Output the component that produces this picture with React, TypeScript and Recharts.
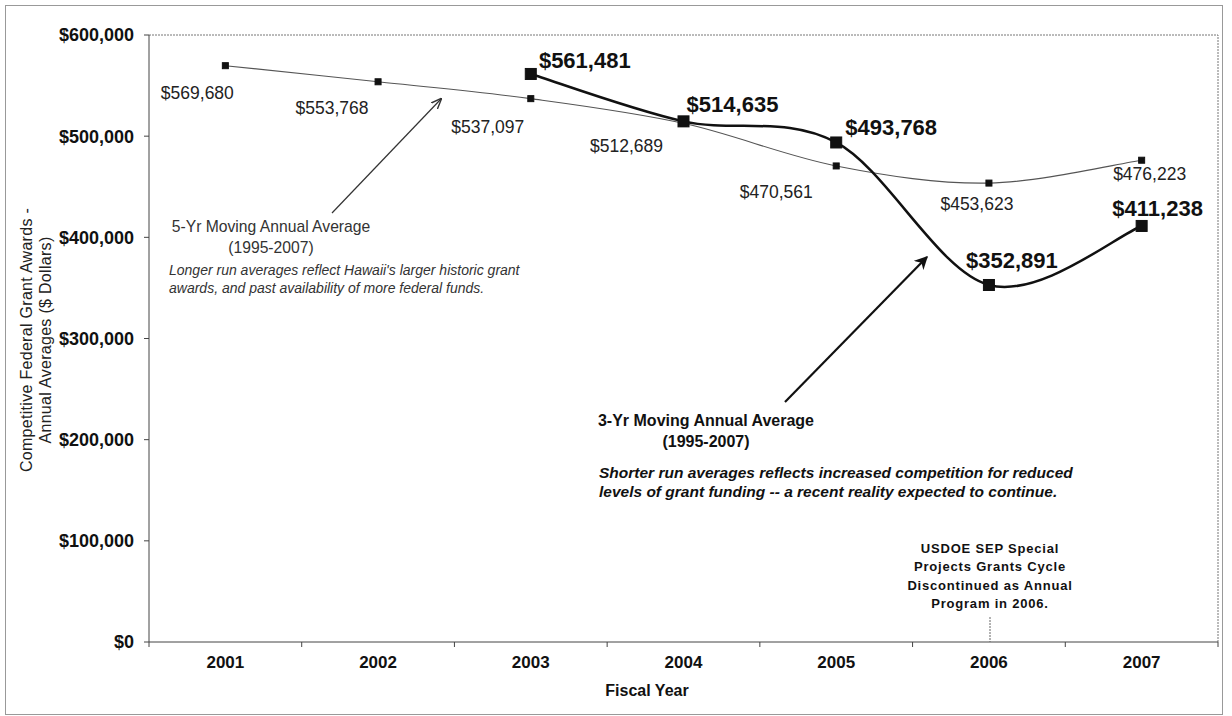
import React from "react";
import { LineChart, Line, XAxis, YAxis, ReferenceLine, LabelList } from "recharts";

const years = [2001, 2002, 2003, 2004, 2005, 2006, 2007];
const fiveYrAvg = [569680, 553768, 537097, 512689, 470561, 453623, 476223];
const threeYrAvg = [null, null, 561481, 514635, 493768, 352891, 411238];
const yTicks = [0, 100000, 200000, 300000, 400000, 500000, 600000];

// label nudges (px) per year
const fiveYrLabelShift = [[-28, 27], [-46, 26], [-43, 28], [-57, 23], [-60, 26], [-12, 21], [8, 14]];
const threeYrLabelShift = [[0, 0], [0, 0], [54, -13], [49, -17], [55, -15], [23, -24], [16, -17]];

const data = years.map((y, i) => ({ year: y, five: fiveYrAvg[i], three: threeYrAvg[i] }));

const W = 1232;
const H = 716;
const margin = { top: 35, right: 14, left: 49, bottom: 34 };
const yAxisW = 100;
const plotW = W - margin.left - yAxisW - margin.right;
const step = plotW / years.length;
const font = "'Liberation Sans', Arial, sans-serif";

const money = (v: number) => "$" + String(v).replace(/\B(?=(\d{3})+(?!\d))/g, ",");

// Excel style smoothed line (catmull-rom as bezier)
function excelSmooth(context: any) {
  let pts: number[][] = [];
  return {
    areaStart() {},
    areaEnd() {},
    lineStart() {
      pts = [];
    },
    point(x: number, y: number) {
      pts.push([+x, +y]);
    },
    lineEnd() {
      if (!pts.length) return;
      context.moveTo(pts[0][0], pts[0][1]);
      for (let i = 0; i < pts.length - 1; i++) {
        const p0 = pts[i - 1] || pts[i];
        const p1 = pts[i];
        const p2 = pts[i + 1];
        const p3 = pts[i + 2] || p2;
        context.bezierCurveTo(
          p1[0] + (p2[0] - p0[0]) / 6,
          p1[1] + (p2[1] - p0[1]) / 6,
          p2[0] - (p3[0] - p1[0]) / 6,
          p2[1] - (p3[1] - p1[1]) / 6,
          p2[0],
          p2[1]
        );
      }
    },
  };
}

const squareDot = (size: number) => (props: any) => {
  const { cx, cy, index } = props;
  if (cx == null || cy == null || props.value == null || (Array.isArray(props.value) && props.value[1] == null))
    return <g key={"d" + index} />;
  return <rect key={"d" + index} x={cx - size / 2} y={cy - size / 2} width={size} height={size} fill="#111" stroke="#111" />;
};

const XTick = (props: any) => {
  const { x, y, payload, index } = props;
  const axisY = y - 14;
  return (
    <g>
      <line x1={x - step / 2} x2={x - step / 2} y1={axisY} y2={axisY + 5} stroke="#444" />
      {index === years.length - 1 && (
        <line x1={x + step / 2} x2={x + step / 2} y1={axisY} y2={axisY + 5} stroke="#444" />
      )}
      <text x={x} y={y} dy="0.71em" textAnchor="middle" fontFamily={font} fontWeight="bold" fontSize={17} fill="#111">
        {payload.value}
      </text>
    </g>
  );
};

const labelFor = (shift: number[][], size: number, weight: string, fill: string) => (p: any) => {
  const { x, y, value, index } = p;
  if (value == null || x == null || y == null) return null;
  const s = shift[index] || [0, 0];
  return (
    <text
      key={"l" + index}
      x={x + s[0]}
      y={y + s[1]}
      textAnchor="middle"
      dominantBaseline="central"
      fontFamily={font}
      fontSize={size}
      fontWeight={weight}
      fill={fill}
    >
      {money(value)}
    </text>
  );
};

export default function App() {
  return (
    <div style={{ position: "absolute", left: 0, top: 0, width: W, height: H, background: "#fff" }}>
      <LineChart width={W} height={H} data={data} margin={margin}>
        <XAxis
          dataKey="year"
          type="number"
          domain={[2000.5, 2007.5]}
          ticks={years}
          allowDataOverflow
          height={40}
          tickSize={5}
          tickMargin={9}
          tickLine={false}
          axisLine={{ stroke: "#444" }}
          tick={<XTick />}
        />
        <YAxis
          width={yAxisW}
          domain={[0, 600000]}
          ticks={yTicks}
          tickSize={5}
          tickMargin={10}
          tickFormatter={money}
          axisLine={{ stroke: "#444" }}
          tickLine={{ stroke: "#444" }}
          tick={{ fontFamily: font, fontWeight: "bold", fontSize: 18, fill: "#111" }}
        />
        <ReferenceLine y={600000} stroke="#777" strokeDasharray="2 1" />
        <ReferenceLine x={2007.5} stroke="#777" strokeDasharray="2 1" />
        <Line
          dataKey="five"
          type={excelSmooth as any}
          stroke="#555"
          strokeWidth={1.1}
          dot={squareDot(6)}
          isAnimationActive={false}
        >
          <LabelList dataKey="five" content={labelFor(fiveYrLabelShift, 17.5, "normal", "#222")} />
        </Line>
        <Line
          dataKey="three"
          type={excelSmooth as any}
          stroke="#111"
          strokeWidth={2.5}
          dot={squareDot(11)}
          isAnimationActive={false}
        >
          <LabelList dataKey="three" content={labelFor(threeYrLabelShift, 22, "bold", "#111")} />
        </Line>
      </LineChart>

      <svg width={W} height={H} style={{ position: "absolute", left: 0, top: 0, pointerEvents: "none" }} fontFamily={font}>
        <defs>
          <marker id="headThin" viewBox="0 0 10 10" refX="9" refY="5" markerWidth="9" markerHeight="9" orient="auto">
            <path d="M0,1 L10,5 L0,9" fill="none" stroke="#333" strokeWidth="1.3" />
          </marker>
          <marker id="headBold" viewBox="0 0 10 10" refX="9" refY="5" markerWidth="6" markerHeight="6" orient="auto">
            <path d="M0,0 L10,5 L0,10 L3,5 z" fill="#111" />
          </marker>
        </defs>
        <rect x={5.5} y={5.5} width={1217} height={709} fill="none" stroke="#999" />

        <text transform="translate(26,340) rotate(-90)" textAnchor="middle" dominantBaseline="central" fontSize={16} letterSpacing={0.3} fill="#222">
          Competitive Federal Grant Awards -
        </text>
        <text transform="translate(45,340) rotate(-90)" textAnchor="middle" dominantBaseline="central" fontSize={16} letterSpacing={0.3} fill="#222">
          Annual Averages ($ Dollars)
        </text>
        <text x={647} y={690} textAnchor="middle" dominantBaseline="central" fontSize={16} fontWeight="bold" fill="#111">
          Fiscal Year
        </text>

        <line x1={332} y1={213} x2={441} y2={99} stroke="#333" strokeWidth={1.2} markerEnd="url(#headThin)" />
        <text x={271} y={226} textAnchor="middle" dominantBaseline="central" fontSize={15.7} fill="#333">
          5-Yr Moving Annual Average
        </text>
        <text x={271} y={247} textAnchor="middle" dominantBaseline="central" fontSize={15.7} fill="#333">
          (1995-2007)
        </text>
        <text x={169} y={270} dominantBaseline="central" fontSize={14} fontStyle="italic" fill="#333">
          Longer run averages reflect Hawaii's larger historic grant
        </text>
        <text x={169} y={288} dominantBaseline="central" fontSize={14} fontStyle="italic" fill="#333">
          awards, and past availability of more federal funds.
        </text>

        <line x1={785} y1={402} x2={927} y2={257} stroke="#111" strokeWidth={2.2} markerEnd="url(#headBold)" />
        <text x={706} y={420} textAnchor="middle" dominantBaseline="central" fontSize={16} fontWeight="bold" fill="#111">
          3-Yr Moving Annual Average
        </text>
        <text x={706} y={441} textAnchor="middle" dominantBaseline="central" fontSize={16} fontWeight="bold" fill="#111">
          (1995-2007)
        </text>
        <text x={599} y={472} dominantBaseline="central" fontSize={15.5} fontWeight="bold" fontStyle="italic" fill="#111">
          Shorter run averages reflects increased competition for reduced
        </text>
        <text x={599} y={491} dominantBaseline="central" fontSize={15.5} fontWeight="bold" fontStyle="italic" fill="#111">
          levels of grant funding -- a recent reality expected to continue.
        </text>

        {["USDOE SEP Special", "Projects Grants Cycle", "Discontinued as Annual", "Program in 2006."].map((t, i) => (
          <text key={t} x={990} y={548 + i * 18.5} textAnchor="middle" dominantBaseline="central" fontSize={13} fontWeight="bold" letterSpacing={0.8} fill="#111">
            {t}
          </text>
        ))}
        <line x1={990} y1={617} x2={990} y2={642} stroke="#666" strokeDasharray="2 1" />
      </svg>
    </div>
  );
}
